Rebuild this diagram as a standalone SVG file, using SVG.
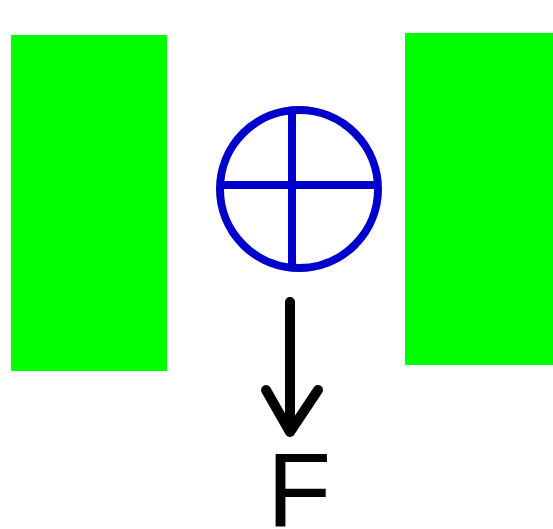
<svg xmlns="http://www.w3.org/2000/svg" width="553" height="529" viewBox="0 0 553 529">
<style>
.wall{fill:#00ff00}
.wheel{fill:none;stroke:#0000cc;stroke-width:8}
.force{fill:none;stroke:#000;stroke-width:10;stroke-linecap:round;stroke-linejoin:round}
.lbl{font-family:"Liberation Sans",Arial,sans-serif;font-size:105px;fill:#000}
</style>
<rect width="553" height="529" fill="#fff"/>
<g id="left-wall"><rect class="wall" x="11" y="35" width="156" height="336"/></g>
<g id="right-wall"><rect class="wall" x="405" y="33" width="148" height="332"/></g>
<g id="wheel">
<circle class="wheel" cx="299" cy="189" r="79"/>
<line class="wheel" x1="292" y1="110" x2="292" y2="268"/>
<line class="wheel" x1="220" y1="185" x2="378" y2="185"/>
</g>
<g id="connectors">
<path class="force" d="M290 302 V432 M266 390 L290 432 L318 390"/>
</g>
<g id="label-F"><text class="lbl" x="267" y="527">F</text></g>
</svg>
